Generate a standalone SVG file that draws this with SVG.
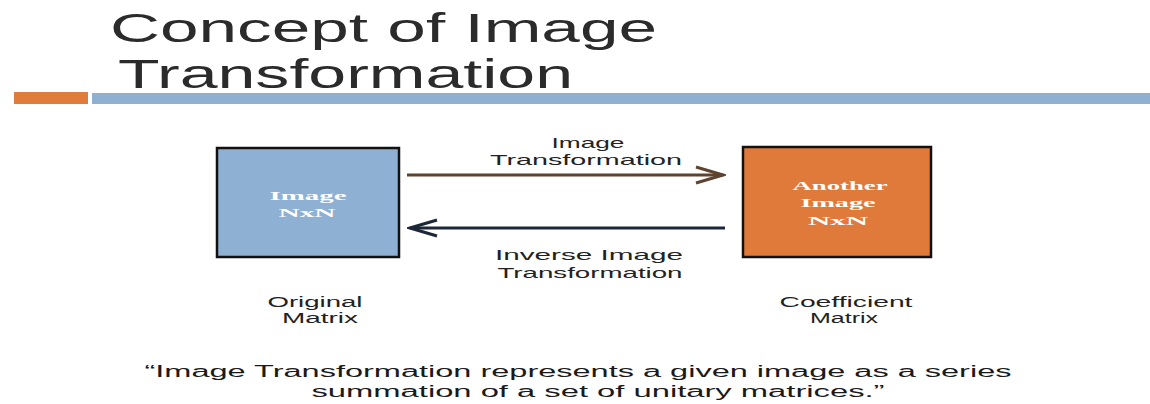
<svg xmlns="http://www.w3.org/2000/svg" width="1150" height="404" viewBox="0 0 1150 404">
  <style>
    .title { font-family: "Liberation Sans", Arial, sans-serif; font-size: 40px; fill: #2b2b2b; }
    .lbl { font-family: "Liberation Sans", Arial, sans-serif; font-size: 15px; fill: #222; text-anchor: middle; }
    .cap { font-family: "Liberation Sans", Arial, sans-serif; font-size: 14px; fill: #222; text-anchor: middle; }
    .quote { font-family: "Liberation Sans", Arial, sans-serif; font-size: 16px; fill: #1a1a1a; text-anchor: middle; }
    .boxtxt { font-family: "Liberation Serif", "Times New Roman", serif; font-weight: bold; font-size: 13px; fill: #ffffff; text-anchor: middle; }
    .box { stroke: #111; stroke-width: 2.5; }
  </style>
  <defs>
    <marker id="chevBrown" markerUnits="userSpaceOnUse" markerWidth="32" markerHeight="22" viewBox="0 0 32 22" refX="29" refY="11" orient="auto">
      <path d="M2,3 L29,11 L2,19" fill="none" stroke="#5e4330" stroke-width="3" stroke-linejoin="miter"/>
    </marker>
    <marker id="chevNavy" markerUnits="userSpaceOnUse" markerWidth="32" markerHeight="22" viewBox="0 0 32 22" refX="29" refY="11" orient="auto">
      <path d="M2,3 L29,11 L2,19" fill="none" stroke="#1c2838" stroke-width="3" stroke-linejoin="miter"/>
    </marker>
  </defs>
  <rect width="1150" height="404" fill="#ffffff"/>

  <g id="header">
    <text class="title" x="110" y="42" textLength="547" lengthAdjust="spacingAndGlyphs">Concept of Image</text>
    <text class="title" x="118" y="88" textLength="455" lengthAdjust="spacingAndGlyphs">Transformation</text>
    <rect x="14" y="92" width="74" height="12" fill="#e07b39"/>
    <rect x="92" y="93" width="1058" height="11" fill="#8fb0d0"/>
  </g>

  <g id="original">
    <rect class="box" x="217" y="148" width="182" height="109" fill="#8eb0d2"/>
    <text class="boxtxt" x="308" y="200" textLength="77" lengthAdjust="spacingAndGlyphs">Image</text>
    <text class="boxtxt" x="307" y="217" textLength="57" lengthAdjust="spacingAndGlyphs">NxN</text>
  </g>

  <g id="another">
    <rect class="box" x="743" y="147" width="188" height="110" fill="#e07a3a"/>
    <text class="boxtxt" x="840" y="190" textLength="95" lengthAdjust="spacingAndGlyphs">Another</text>
    <text class="boxtxt" x="838" y="207" textLength="75" lengthAdjust="spacingAndGlyphs">Image</text>
    <text class="boxtxt" x="838" y="225" textLength="60" lengthAdjust="spacingAndGlyphs">NxN</text>
  </g>

  <g id="connectors">
    <line x1="407" y1="175" x2="723" y2="175" stroke="#5e4330" stroke-width="3" marker-end="url(#chevBrown)"/>
    <line x1="725" y1="228" x2="410" y2="228" stroke="#1c2838" stroke-width="3" marker-end="url(#chevNavy)"/>
  </g>

  <g id="labels">
    <text class="lbl" x="588" y="148" textLength="73" lengthAdjust="spacingAndGlyphs">Image</text>
    <text class="lbl" x="586" y="165" textLength="192" lengthAdjust="spacingAndGlyphs">Transformation</text>
    <text class="lbl" x="589" y="260" textLength="188" lengthAdjust="spacingAndGlyphs">Inverse Image</text>
    <text class="lbl" x="590" y="278" textLength="185" lengthAdjust="spacingAndGlyphs">Transformation</text>
    <text class="cap" x="315" y="307" textLength="95" lengthAdjust="spacingAndGlyphs">Original</text>
    <text class="cap" x="320" y="323" textLength="76" lengthAdjust="spacingAndGlyphs">Matrix</text>
    <text class="cap" x="846" y="307" textLength="133" lengthAdjust="spacingAndGlyphs">Coefficient</text>
    <text class="cap" x="844" y="323" textLength="68" lengthAdjust="spacingAndGlyphs">Matrix</text>
  </g>

  <g id="quote">
    <text class="quote" x="578" y="377" textLength="867" lengthAdjust="spacingAndGlyphs">“Image Transformation represents a given image as a series</text>
    <text class="quote" x="598" y="397" textLength="573" lengthAdjust="spacingAndGlyphs">summation of a set of unitary matrices.”</text>
  </g>
</svg>
